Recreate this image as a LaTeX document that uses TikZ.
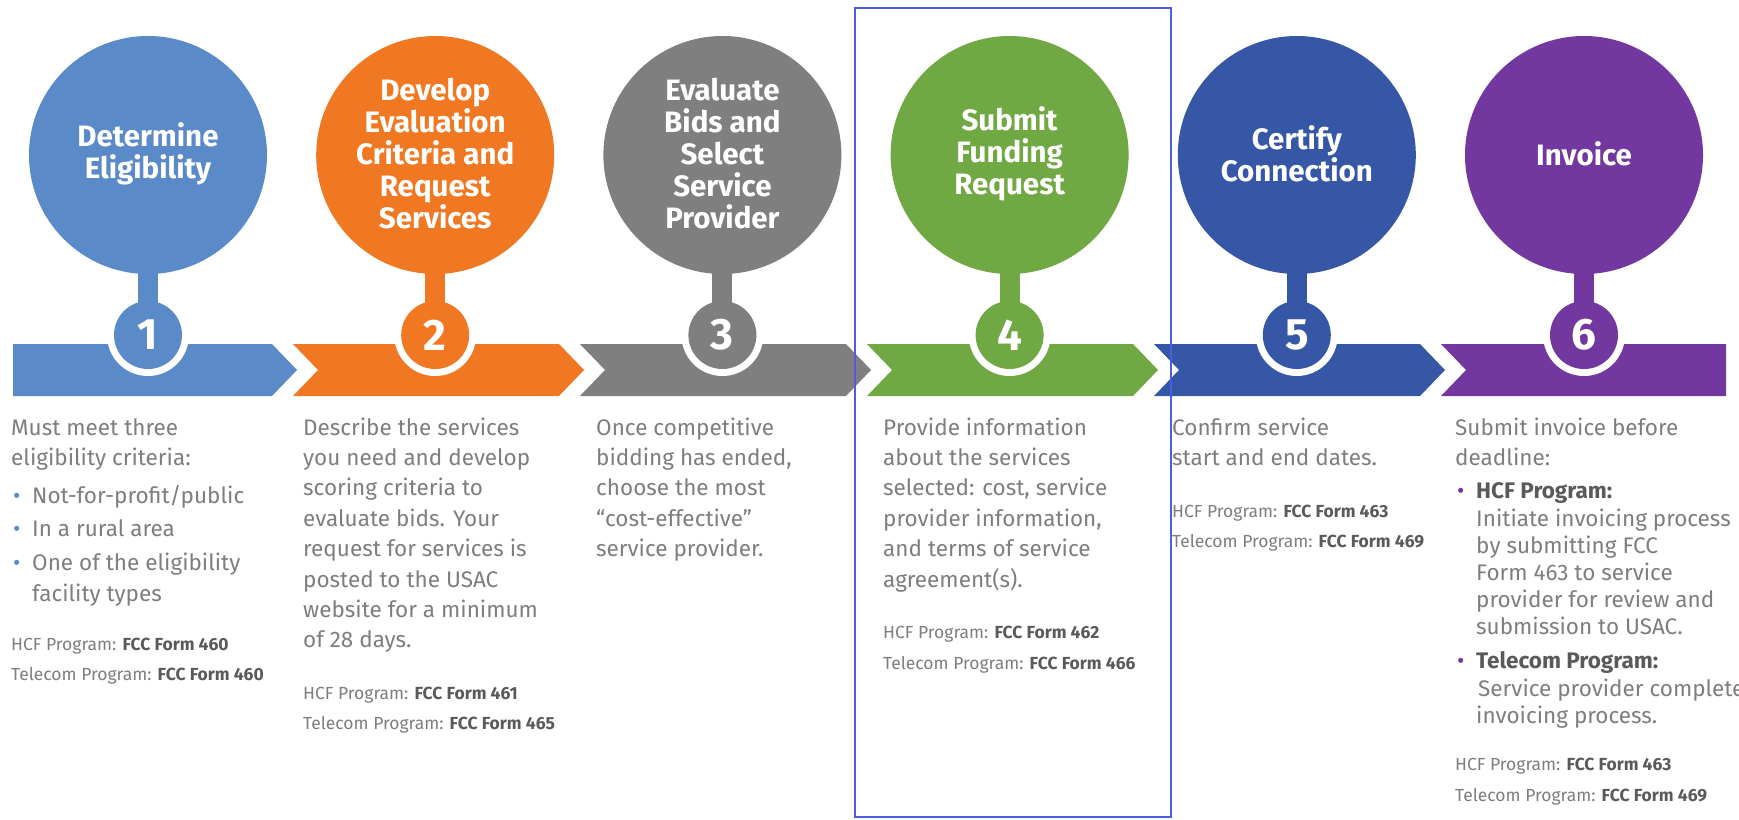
\documentclass[tikz,border=0pt]{standalone}
\usepackage{fontspec}
\setmainfont{Fira Sans}
\definecolor{cA}{HTML}{5A8AC8}
\definecolor{cB}{HTML}{F07822}
\definecolor{cC}{HTML}{7F7F7F}
\definecolor{cD}{HTML}{70A843}
\definecolor{cE}{HTML}{3656A6}
\definecolor{cF}{HTML}{72389F}
\definecolor{txt}{HTML}{7E7E7E}
\definecolor{txtd}{HTML}{5A5A5A}
\definecolor{hl}{HTML}{4A5FE0}
\tikzset{
  head/.style={text=white, font=\bfseries\fontsize{29.5}{32}\selectfont, align=center, inner sep=0},
  numtxt/.style={text=white, font=\bfseries\fontsize{44}{44}\selectfont, inner sep=0},
  body/.style={text=txt, font=\fontsize{22.5}{30}\selectfont, anchor=base west, inner sep=0},
  bodyb/.style={text=txtd, font=\bfseries\fontsize{22.5}{30}\selectfont, anchor=base west, inner sep=0},
  form/.style={text=txt, font=\fontsize{17.5}{30}\selectfont, anchor=base west, inner sep=0},
  bul/.style={font=\fontsize{22.5}{30}\selectfont, anchor=base west, inner sep=0},
}
\newcommand{\fb}[1]{\textcolor{txtd}{\bfseries #1}}
\begin{document}
\begin{tikzpicture}[x=1pt,y=-1pt]
\useasboundingbox (0,0) rectangle (1739,819);
\fill[white] (0,0) rectangle (1739,819);
% bands
\fill[cA] (13,344) -- (272,344) -- (297,370) -- (272,396) -- (13,396) -- cycle;
\foreach \i/\c in {1/cB,2/cC,3/cD,4/cE}{
  \fill[\c] ({6+\i*287},344) -- ({272+\i*287},344) -- ({297+\i*287},370) -- ({272+\i*287},396) -- ({6+\i*287},396) -- ({31+\i*287},370) -- cycle;
}
\fill[cF] (1441,344) -- (1726,344) -- (1726,396) -- (1441,396) -- (1466,370) -- cycle;
% circles, stems and numbers
\foreach \i/\c in {0/cA,1/cB,2/cC,3/cD,4/cE,5/cF}{
  \pgfmathsetmacro{\cx}{148+\i*287.2}
  \fill[white] (\cx,335) circle[radius=41];
  \fill[\c] (\cx-10,260) rectangle (\cx+10,320);
  \fill[\c] (\cx,155) circle[radius=119];
  \fill[\c] (\cx,335) circle[radius=34];
}
\node[numtxt] (n1) at (148,335) {1};
\node[numtxt] (n2) at (435.2,335) {2};
\node[numtxt] (n3) at (722.4,335) {3};
\node[numtxt] (n4) at (1009.6,335) {4};
\node[numtxt] (n5) at (1296.8,335) {5};
\node[numtxt] (n6) at (1584,335) {6};
% headings
\node[head] (h1) at (148,154) {Determine\\Eligibility};
\node[head] (h2) at (435.2,154) {Develop\\Evaluation\\Criteria and\\Request\\Services};
\node[head] (h3) at (722.4,154) {Evaluate\\Bids and\\Select\\Service\\Provider};
\node[head] (h4) at (1009.6,154) {Submit\\Funding\\Request};
\node[head] (h5) at (1296.8,154) {Certify\\Connection};
\node[head] (h6) at (1584,154) {Invoice};
% column 1
\node[body] (c1a) at (11,435) {Must meet three};
\node[body] (c1b) at (11,465) {eligibility criteria:};
\node[bul,text=cA] (d11) at (13,503) {•};
\node[body] (c1c) at (32,503) {Not-for-profit/public};
\node[bul,text=cA] (d12) at (13,536) {•};
\node[body] (c1d) at (32,536) {In a rural area};
\node[bul,text=cA] (d13) at (13,570) {•};
\node[body] (c1e) at (32,570) {One of the eligibility};
\node[body] (c1f) at (32,601) {facility types};
\node[form] (f1a) at (11,650) {HCF Program: \fb{FCC Form 460}};
\node[form] (f1b) at (11,680) {Telecom Program: \fb{FCC Form 460}};
% column 2
\foreach \t [count=\k] in {Describe the services, you need and develop, scoring criteria to, evaluate bids. Your, request for services is, posted to the USAC, website for a minimum, of 28 days.}{
  \node[body] (c2-\k) at (303,{435+30.4*(\k-1)}) {\t};
}
\node[form] (f2a) at (303,699) {HCF Program: \fb{FCC Form 461}};
\node[form] (f2b) at (303,729) {Telecom Program: \fb{FCC Form 465}};
% column 3
\foreach \t [count=\k] in {Once competitive, {bidding has ended,}, choose the most, “cost-effective”, service provider.}{
  \node[body] (c3-\k) at (596,{435+30.4*(\k-1)}) {\t};
}
% column 4
\foreach \t [count=\k] in {Provide information, about the services, {selected: cost, service}, {provider information,}, and terms of service, agreement(s).}{
  \node[body] (c4-\k) at (883,{435+30.4*(\k-1)}) {\t};
}
\node[form] (f4a) at (883,638) {HCF Program: \fb{FCC Form 462}};
\node[form] (f4b) at (883,669) {Telecom Program: \fb{FCC Form 466}};
% column 5
\node[body] (c5a) at (1172,435) {Confirm service};
\node[body] (c5b) at (1172,465) {start and end dates.};
\node[form] (f5a) at (1172,517) {HCF Program: \fb{FCC Form 463}};
\node[form] (f5b) at (1172,547) {Telecom Program: \fb{FCC Form 469}};
% column 6
\node[body] (c6a) at (1455,435) {Submit invoice before};
\node[body] (c6b) at (1455,465) {deadline:};
\node[bul,text=cF] (d61) at (1457,498) {•};
\node[bodyb] (c6c) at (1476,498) {HCF Program:};
\foreach \t [count=\k] in {Initiate invoicing process, by submitting FCC, Form 463 to service, provider for review and, submission to USAC.}{
  \node[body] (c6-\k) at (1476,{526+27.2*(\k-1)}) {\t};
}
\node[bul,text=cF] (d62) at (1457,668) {•};
\node[bodyb] (c6d) at (1476,668) {Telecom Program:};
\node[body] (c6e) at (1478,696) {Service provider complete};
\node[body] (c6f) at (1476,723) {invoicing process.};
\node[form] (f6a) at (1455,770) {HCF Program: \fb{FCC Form 463}};
\node[form] (f6b) at (1455,801) {Telecom Program: \fb{FCC Form 469}};
% highlight frame
\draw[hl, line width=1.6pt] (855,8) rectangle (1171,817);
\end{tikzpicture}
\end{document}
